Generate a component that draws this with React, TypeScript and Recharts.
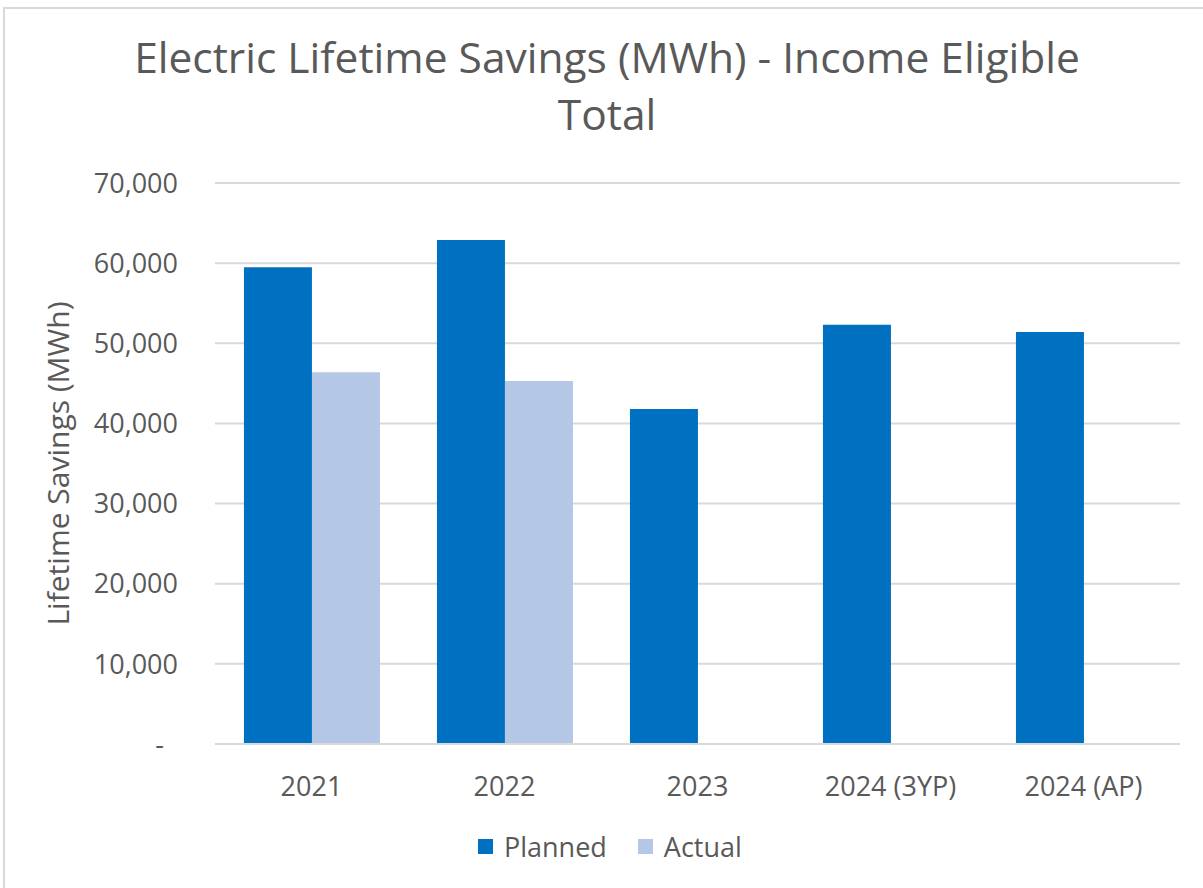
import { BarChart, Bar, XAxis, YAxis, CartesianGrid, Legend, Label } from 'recharts';

const categories = ['2021', '2022', '2023', '2024 (3YP)', '2024 (AP)'];
const planned = [59500, 62900, 41800, 52300, 51400];
const actual = [46400, 45300, 0, 0, 0];
const yTicks = [0, 10000, 20000, 30000, 40000, 50000, 60000, 70000];

const data = categories.map((name, i) => ({ name, planned: planned[i], actual: actual[i] }));

const FONT = '"Open Sans", sans-serif';
const TEXT = '#595959';
const PLANNED = '#0070C0';
const ACTUAL = '#B4C7E7';

const YTick = (props: any) => {
  const { x, y, payload } = props;
  const v = payload.value as number;
  return (
    <text x={v === 0 ? x - 14 : x} y={y} dy="0.36em" textAnchor="end" fill={TEXT} fontSize={27} fontFamily={FONT}>
      {v === 0 ? '-' : v.toLocaleString('en-US')}
    </text>
  );
};

const LegendBox = () => (
  <div style={{ display: 'flex', alignItems: 'center', fontFamily: FONT, fontSize: 27, color: TEXT }}>
    <span style={{ width: 15, height: 15, background: PLANNED, display: 'inline-block', marginRight: 11 }} />
    <span style={{ marginRight: 31 }}>Planned</span>
    <span style={{ width: 15, height: 15, background: ACTUAL, display: 'inline-block', marginRight: 11 }} />
    <span>Actual</span>
  </div>
);

export default function App() {
  return (
    <div style={{ position: 'absolute', left: 0, top: 0, width: 1203, height: 888, overflow: 'hidden', background: '#fff' }}>
      <div style={{ position: 'absolute', left: 3, top: 7, width: 1300, height: 1000, border: '2px solid #D9D9D9' }} />
      <div
        style={{
          position: 'absolute',
          left: 0,
          top: 28,
          width: 1214,
          textAlign: 'center',
          fontFamily: FONT,
          fontSize: 42.5,
          lineHeight: '57px',
          color: TEXT,
        }}
      >
        Electric Lifetime Savings (MWh) - Income Eligible
        <br />
        Total
      </div>
      <div style={{ position: 'absolute', left: 0, top: 0 }}>
        <BarChart
          width={1203}
          height={888}
          data={data}
          margin={{ top: 183, right: 23, bottom: 77, left: 20 }}
          barCategoryGap="15%"
          barGap={0}
        >
          <CartesianGrid vertical={false} stroke="#D9D9D9" strokeWidth={2} />
          <XAxis
            dataKey="name"
            axisLine={{ stroke: '#D9D9D9', strokeWidth: 2 }}
            tickLine={false}
            tickMargin={27}
            tick={{ fill: TEXT, fontSize: 27, fontFamily: FONT }}
          />
          <YAxis
            width={195}
            domain={[0, 70000]}
            ticks={yTicks}
            axisLine={false}
            tickLine={false}
            tickMargin={31}
            tick={<YTick />}
          >
            <Label
              content={({ viewBox }: any) => {
                const cx = 57;
                const cy = viewBox.y + viewBox.height / 2;
                return (
                  <text
                    x={cx}
                    y={cy}
                    transform={`rotate(-90 ${cx} ${cy})`}
                    textAnchor="middle"
                    dominantBaseline="central"
                    fill={TEXT}
                    fontSize={30}
                    fontFamily={FONT}
                  >
                    Lifetime Savings (MWh)
                  </text>
                );
              }}
            />
          </YAxis>
          <Legend
            content={<LegendBox />}
            wrapperStyle={{ position: 'absolute', left: 478, top: 828, width: 'auto' }}
          />
          <Bar dataKey="planned" name="Planned" fill={PLANNED} isAnimationActive={false} />
          <Bar dataKey="actual" name="Actual" fill={ACTUAL} isAnimationActive={false} />
        </BarChart>
      </div>
    </div>
  );
}
